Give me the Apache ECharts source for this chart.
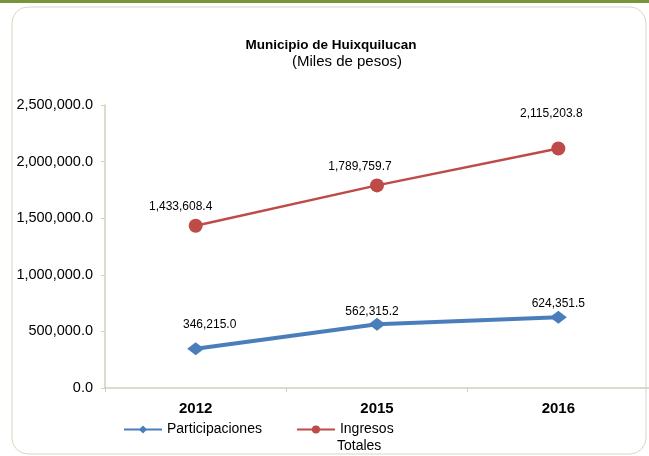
<!DOCTYPE html>
<html>
<head>
<meta charset="utf-8">
<script src="https://cdn.jsdelivr.net/npm/echarts@6/dist/echarts.min.js"></script>
<style>
  html, body { margin: 0; padding: 0; background: #fff; }
  #chart { width: 649px; height: 456px; }
</style>
</head>
<body>
<div id="chart"></div>
<script>
  // datos del grafico
  const years = ['2012', '2015', '2016'];
  const participaciones = [346215.0, 562315.2, 624351.5];
  const ingresosTotales = [1433608.4, 1789759.7, 2115203.8];
  const yTicks = [0, 500000, 1000000, 1500000, 2000000, 2500000];

  // desplazamiento de etiquetas (como en el original de Excel)
  const partLabelOffset = [[14, -24], [-5, -13], [0, -14]];
  const ingLabelOffset = [[-15, -19], [-17, -19], [-7, -35]];

  const fmt = v => v.toLocaleString('en-US', { minimumFractionDigits: 1, maximumFractionDigits: 1 });
  const FONT = 'Liberation Sans, Arial, sans-serif';

  const myChart = echarts.init(document.getElementById('chart'));

  const withLabels = (values, offsets) => values.map((v, i) => ({
    value: v,
    label: { offset: offsets[i] }
  }));

  const option = {
    animation: false,
    textStyle: { fontFamily: FONT },
    graphic: [
      { type: 'rect', shape: { x: 0, y: 0, width: 649, height: 3 }, style: { fill: '#77933C' } },
      { type: 'rect', shape: { x: 12, y: 7, width: 634, height: 447, r: 16 },
        style: { fill: 'none', stroke: '#d6d6c6', lineWidth: 1 }, z: -1 },
      { type: 'text', x: 331, y: 45,
        style: { text: 'Municipio de Huixquilucan', font: 'bold 13.5px ' + FONT, fill: '#000', align: 'center', verticalAlign: 'middle' } },
      { type: 'text', x: 347, y: 62,
        style: { text: '(Miles de pesos)', font: '15px ' + FONT, fill: '#000', align: 'center', verticalAlign: 'middle' } },
      { type: 'text', x: 337, y: 446,
        style: { text: 'Totales', font: '14px ' + FONT, fill: '#000', align: 'left', verticalAlign: 'middle' } }
    ],
    legend: {
      left: 123,
      top: 421,
      padding: 0,
      itemWidth: 38,
      itemHeight: 10,
      itemGap: 34,
      textStyle: { fontSize: 14, color: '#000', fontFamily: FONT, lineHeight: 17 },
      formatter: name => name === 'Ingresos Totales' ? 'Ingresos' : name,
      data: ['Participaciones', 'Ingresos Totales']
    },
    grid: { left: 105, top: 105, bottom: 68, right: -5, containLabel: false },
    xAxis: {
      type: 'category',
      data: years,
      boundaryGap: true,
      axisLine: { lineStyle: { color: '#d0d0bc', width: 1.5 } },
      axisTick: { show: true, length: 4, lineStyle: { color: '#d0d0bc' } },
      axisLabel: { fontSize: 15, fontWeight: 'bold', color: '#000', margin: 13 }
    },
    yAxis: {
      type: 'value',
      min: yTicks[0],
      max: yTicks[yTicks.length - 1],
      interval: 500000,
      axisLine: { show: true, lineStyle: { color: '#d0d0bc', width: 1.5 } },
      axisTick: { show: true, length: 4, lineStyle: { color: '#d0d0bc' } },
      splitLine: { show: false },
      axisLabel: { fontSize: 14.5, color: '#000', margin: 12, formatter: v => fmt(v) }
    },
    series: [
      {
        name: 'Participaciones',
        type: 'line',
        data: withLabels(participaciones, partLabelOffset),
        symbol: 'diamond',
        symbolSize: [17, 13],
        itemStyle: { color: '#4a7ebb' },
        lineStyle: { color: '#4a7ebb', width: 4 },
        label: { show: true, position: 'inside', fontSize: 12, color: '#000', formatter: p => fmt(p.value) }
      },
      {
        name: 'Ingresos Totales',
        type: 'line',
        data: withLabels(ingresosTotales, ingLabelOffset),
        symbol: 'circle',
        symbolSize: 14,
        itemStyle: { color: '#be4b48' },
        lineStyle: { color: '#be4b48', width: 2.5 },
        label: { show: true, position: 'inside', fontSize: 12, color: '#000', formatter: p => fmt(p.value) }
      }
    ]
  };

  myChart.setOption(option);
</script>
</body>
</html>
